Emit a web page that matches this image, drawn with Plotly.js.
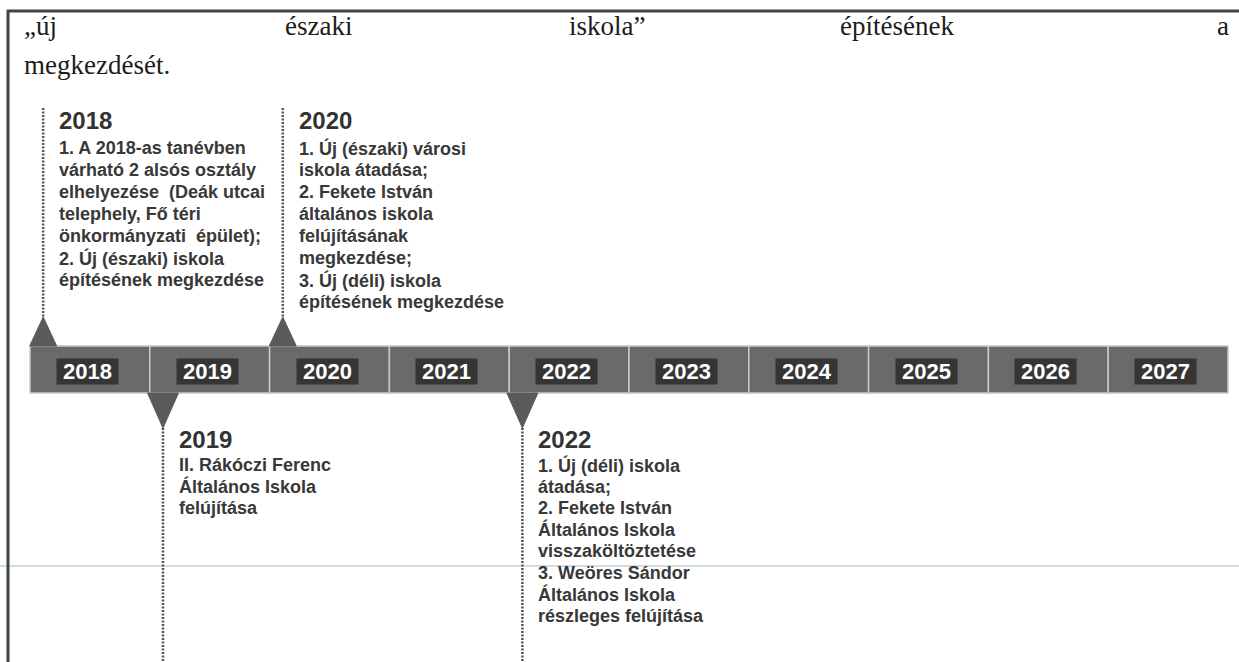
<!DOCTYPE html>
<html><head><meta charset="utf-8">
<script src="https://cdn.plot.ly/plotly-3.0.1.min.js"></script>
<style>html,body{margin:0;padding:0;background:#fff;overflow:hidden}#chart{width:1239px;height:662px}</style>
</head><body><div id="chart"></div>
<script>
// ---- data ----
const years = [2018, 2019, 2020, 2021, 2022, 2023, 2024, 2025, 2026, 2027];
const yearLabels = ['2018', '2019', '2020', '2021', '2022', '2023', '2024', '2025', '2026', '2027'];

const eventYears = [2018, 2019, 2020, 2022];
const eventSides = ['above', 'below', 'above', 'below'];
const eventTitles = ['2018', '2019', '2020', '2022'];
const eventText2018 = [
  '1. A 2018-as tanévben',
  'várható 2 alsós osztály',
  'elhelyezése  (Deák utcai',
  'telephely, Fő téri',
  'önkormányzati  épület);',
  '2. Új (északi) iskola',
  'építésének megkezdése'
];
const eventText2019 = [
  'II. Rákóczi Ferenc',
  'Általános Iskola',
  'felújítása'
];
const eventText2020 = [
  '1. Új (északi) városi',
  'iskola átadása;',
  '2. Fekete István',
  'általános iskola',
  'felújításának',
  'megkezdése;',
  '3. Új (déli) iskola',
  'építésének megkezdése'
];
const eventText2022 = [
  '1. Új (déli) iskola',
  'átadása;',
  '2. Fekete István',
  'Általános Iskola',
  'visszaköltöztetése',
  '3. Weöres Sándor',
  'Általános Iskola',
  'részleges felújítása'
];
const eventTexts = [eventText2018, eventText2019, eventText2020, eventText2022];

const headerLine1Words = ['„új', 'északi', 'iskola”', 'építésének', 'a'];
const headerLine2 = 'megkezdését.';

// ---- layout / style constants ----
const W = 1239, H = 662;
const CELL_PX = 119.8, BAR_LEFT_PX = 30;
const xMin = years[0] - 0.5 - BAR_LEFT_PX / CELL_PX;
const xMax = xMin + W / CELL_PX;
const px = p => p / CELL_PX;            // pixel length -> x units

const BAR_TOP = 346, BAR_H = 47;
const MARK_OFF = 0.11, TEXT_OFF = 0.225;
const UP_APEX = 317, DOWN_APEX = 428;
const SERIF = 'Liberation Serif, Times New Roman, serif';
const SANS = 'Liberation Sans, Arial, Helvetica, sans-serif';
const NB = '\u00a0';

const traces = [];
// timeline bar cells
traces.push({
  type: 'bar', x: years, y: years.map(() => BAR_H), base: years.map(() => BAR_TOP),
  width: years.map(() => 1),
  marker: { color: '#6a6a6a', line: { color: '#c9c9c9', width: 1.5 } },
  hoverinfo: 'skip', showlegend: false
});

const annotations = [];
years.forEach((yr, i) => {
  annotations.push({
    x: yr - 0.02, y: BAR_TOP + BAR_H / 2 + 2, xref: 'x', yref: 'y', showarrow: false,
    text: '<b>' + NB + yearLabels[i] + NB + '</b>', font: { family: SANS, size: 22, color: '#ffffff' },
    bgcolor: '#353535', borderpad: 0, xanchor: 'center', yanchor: 'middle'
  });
});

eventYears.forEach((yr, i) => {
  const ex = yr - 0.5 + MARK_OFF;
  const up = eventSides[i] === 'above';
  // stem (dotted)
  traces.push({
    type: 'scatter', mode: 'lines', x: [ex, ex], y: up ? [108, UP_APEX] : [DOWN_APEX, H],
    line: { color: '#555555', width: 2.5, dash: '2px,1.5px' }, hoverinfo: 'skip', showlegend: false
  });
  // triangle
  const hw = px(up ? 13.5 : 15.5);
  const baseY = up ? BAR_TOP : BAR_TOP + BAR_H;
  const apexY = up ? UP_APEX : DOWN_APEX;
  traces.push({
    type: 'scatter', mode: 'lines', fill: 'toself', fillcolor: '#5a5a5a',
    x: [ex - hw, ex + hw, ex, ex - hw], y: [baseY, baseY, apexY, baseY],
    line: { color: '#5a5a5a', width: 1 }, hoverinfo: 'skip', showlegend: false
  });
  // texts
  const tx = yr - 0.5 + TEXT_OFF;
  const headY = up ? 120 : 439;
  const firstY = up ? 148 : 465;
  const step = up ? 22 : 21.6;
  annotations.push({
    x: tx, y: headY, xref: 'x', yref: 'y', showarrow: false, xanchor: 'left', yanchor: 'middle',
    text: '<b>' + eventTitles[i] + '</b>', font: { family: SANS, size: 24, color: '#333333' }
  });
  eventTexts[i].forEach((line, j) => {
    annotations.push({
      x: tx, y: firstY + j * step, xref: 'x', yref: 'y', showarrow: false, xanchor: 'left', yanchor: 'middle',
      text: '<b>' + line + '</b>', font: { family: SANS, size: 18, color: '#383838' }
    });
  });
});

// header words (justified line)
const headerX = [22, 283, 567, 838, 1231];
headerLine1Words.forEach((w, i) => {
  annotations.push({
    x: headerX[i] / W, xref: 'paper', y: 26, yref: 'y', showarrow: false,
    xanchor: i === headerLine1Words.length - 1 ? 'right' : 'left', yanchor: 'middle',
    text: w, font: { family: SERIF, size: 27, color: '#1c1c1c' }
  });
});
annotations.push({
  x: 22 / W, xref: 'paper', y: 65, yref: 'y', showarrow: false, xanchor: 'left', yanchor: 'middle',
  text: headerLine2, font: { family: SERIF, size: 27, color: '#1c1c1c' }
});

const shapes = [
  { type: 'line', xref: 'paper', yref: 'y', x0: 0, x1: 1, y0: 566, y1: 566, line: { color: '#bcd0dc', width: 1.5 }, layer: 'below' },
  { type: 'line', xref: 'paper', yref: 'y', x0: 7 / W, x1: 1, y0: 11, y1: 11, line: { color: '#3d4545', width: 3 } },
  { type: 'line', xref: 'paper', yref: 'y', x0: 8 / W, x1: 8 / W, y0: 10, y1: H, line: { color: '#3d4545', width: 3 } }
];

const layout = {
  width: W, height: H, margin: { l: 0, r: 0, t: 0, b: 0, pad: 0 },
  paper_bgcolor: '#ffffff', plot_bgcolor: '#ffffff',
  xaxis: { range: [xMin, xMax], visible: false, fixedrange: true },
  yaxis: { range: [H, 0], visible: false, fixedrange: true },
  bargap: 0, showlegend: false, annotations: annotations, shapes: shapes
};

Plotly.newPlot('chart', traces, layout, { displayModeBar: false, staticPlot: true });
</script>
</body></html>
